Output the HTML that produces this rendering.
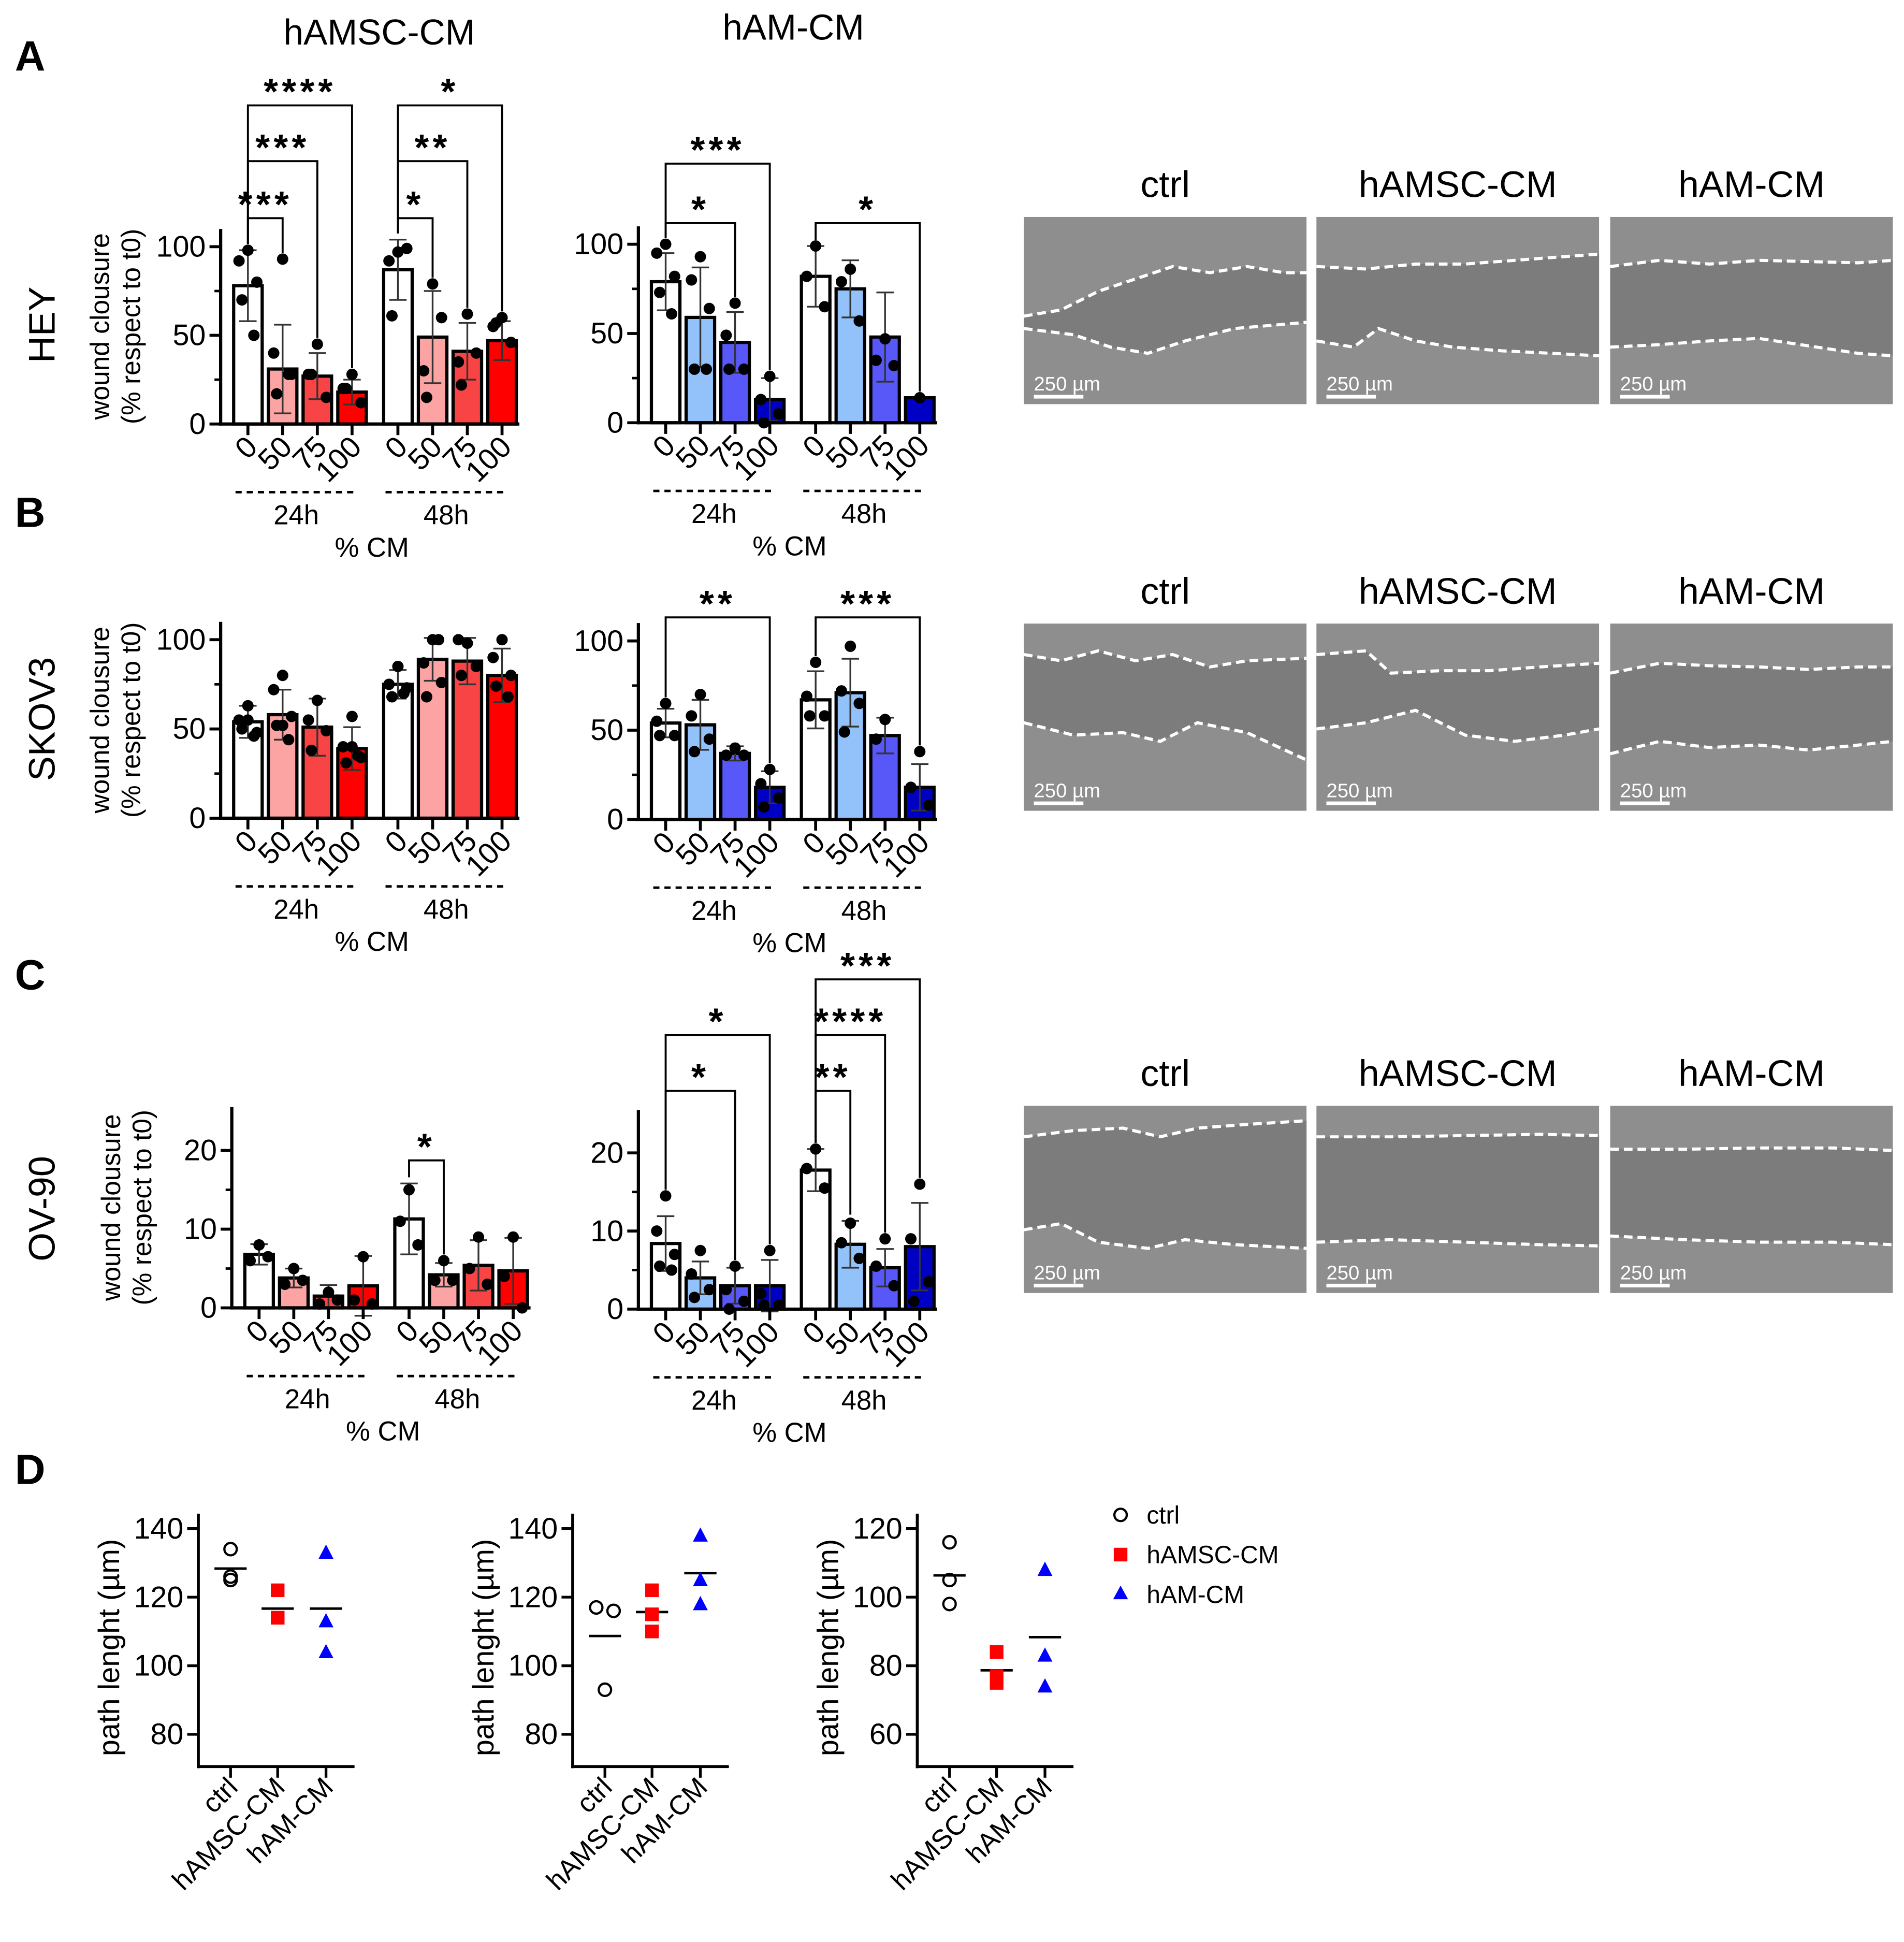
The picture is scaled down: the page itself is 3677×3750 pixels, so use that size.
<!DOCTYPE html>
<html><head><meta charset="utf-8"><style>
html,body{margin:0;padding:0;background:#fff}
svg{display:block;font-family:"Liberation Sans",Arial,sans-serif}
</style></head><body>
<svg id="fig" xmlns="http://www.w3.org/2000/svg" width="3677" height="3750" viewBox="0 0 1536 1566.5">
<g id="static">
<text x="12" y="57" font-size="34" font-weight="bold">A</text>
<text x="12" y="425" font-size="34" font-weight="bold">B</text>
<text x="12" y="798" font-size="34" font-weight="bold">C</text>
<text x="12" y="1197" font-size="34" font-weight="bold">D</text>
<text x="306" y="36" font-size="29" text-anchor="middle">hAMSC-CM</text>
<text x="640" y="32" font-size="29" text-anchor="middle">hAM-CM</text>
<text transform="translate(44,262) rotate(-90)" font-size="30" text-anchor="middle">HEY</text>
<text transform="translate(44,580) rotate(-90)" font-size="30" text-anchor="middle">SKOV3</text>
<text transform="translate(44,975) rotate(-90)" font-size="30" text-anchor="middle">OV-90</text>
</g>
<g id="charts"></g>
<g id="images"></g>
</svg>
<script>
// ---- Bar chart data ----
const doseLabels=["0","50","75","100"];
const timeLabels=["24h","48h"];
const heyAmscMeans=[78,31,27,18,87,49,41,47];
const heyAmscErr=[20,25,13,7,17,26,16,11];
const heyAmscPts=[[98,92,80,70,50],[93,40,28,17,28],[45,28,15,28],[28,20,12,20],[97,92,99,61],[79,30,60,15],[62,35,40,22],[60,55,46,57]];
const heyAmMeans=[79,59,45,13,82,75,48,14];
const heyAmErr=[16,28,17,12,17,16,25,0];
const heyAmPts=[[100,95,82,73,61],[93,80,64,30,30],[67,49,30,30],[26,13,5,0],[99,82,65],[86,79,57],[47,35,32],[14]];
const skAmscMeans=[54,58,51,39,75,89,88,80];
const skAmscErr=[9,14,16,12,8,12,13,15];
const skAmscPts=[[63,55,48,50,46,55],[80,72,57,52,44,52],[66,55,49,38],[57,40,34,31,35,40],[85,75,73,68,70],[100,87,76,68,100],[98,100,85,80],[100,90,80,74,68]];
const skAmMeans=[54,53,37,18,67,71,47,18];
const skAmErr=[8,14,4,9,16,19,10,13];
const skAmPts=[[65,55,47,47],[70,58,45,38],[40,36,36],[28,20,12,7],[88,69,58,58],[97,72,65,49],[56,45],[38,18,8]];
const ovAmscMeans=[6.8,3.8,1.5,2.8,11.3,4.2,5.4,4.7];
const ovAmscErr=[1.3,1.2,1.4,3.8,4.5,1.5,3.2,4.2];
const ovAmscPts=[[8,6,6.5],[5,3,3.5],[2,0.5,1],[6.5,1,0.5],[15,11,8],[6,3.5,3.5],[9,5,3],[9,4,0]];
const ovAmMeans=[8.4,4,3,3,17.8,8.3,5.3,8];
const ovAmErr=[3.5,2.1,2.3,3.3,2.7,3,2.4,5.6];
const ovAmPts=[[14.5,10,7,5.5,5],[7.5,4.5,2.5,1.5],[5.5,2.5,1,0],[7.5,2,0.5,0.5],[20.5,18,15.5],[11,8.5,6.5],[9,5.5,3],[16,9,3.5,1]];
// ---- Path length data ----
const pathCats=["ctrl","hAMSC-CM","hAM-CM"];
const pl1Ctrl=[134,126,125],pl1Amsc=[122,114,114],pl1Am=[133,113,104];
const pl2Ctrl=[117,116,93],pl2Amsc=[122,115,110],pl2Am=[138,125,118];
const pl3Ctrl=[116,105,98],pl3Amsc=[84,77,75],pl3Am=[108,83,74];
const ticks1=[80,100,120,140],ticks3=[60,80,100,120];

const NS="http://www.w3.org/2000/svg";
const charts=document.getElementById('charts');
function mk(tag,attrs,parent,text){const e=document.createElementNS(NS,tag);for(const k in attrs)e.setAttribute(k,attrs[k]);if(text!==undefined)e.textContent=text;(parent||charts).appendChild(e);return e;}

const redCols=["#ffffff","#fca3a3","#f84444","#ff0000"];
const blueCols=["#ffffff","#93c1f9","#5858f8","#0000c4"];

function barChart(name,ax,y0,yTopVal,yTopPix,maxVal,ticks,minor,means,errs,pts,cols,brackets,yTitle){
  const g=mk('g',{});
  
  
  const ys=v=>y0-(v/yTopVal)*(y0-yTopPix);
  const centers=[ax+22,ax+50,ax+78,ax+106,ax+143,ax+171,ax+199,ax+227];
  const bw=23;
  means.forEach((m,i)=>{
    const r=mk('rect',{x:centers[i]-bw/2,y:ys(m),width:bw,height:y0-ys(m),fill:cols[i%4],stroke:'#000','stroke-width':2.6},g);
    
    
  });
  means.forEach((m,i)=>{
    const e=errs[i];if(e<=0)return;
    const eg=mk('g',{stroke:'#333','stroke-width':1.4},g);
    
    
    mk('line',{x1:centers[i],x2:centers[i],y1:ys(m-e),y2:ys(m+e)},eg);
    mk('line',{x1:centers[i]-7,x2:centers[i]+7,y1:ys(m+e),y2:ys(m+e)},eg);
    mk('line',{x1:centers[i]-7,x2:centers[i]+7,y1:ys(m-e),y2:ys(m-e)},eg);
  });
  const jit=[0,-6,6,-4,4,0];
  pts.forEach((arr,i)=>arr.forEach((v,j)=>{
    const c=mk('circle',{cx:centers[i]+(arr.length>1?jit[j%6]*1.2:0),cy:ys(Math.max(0,v)),r:4.6,fill:'#000'},g);
    
    
  }));
  const axTop=ys(maxVal);
  mk('line',{x1:ax,x2:ax,y1:axTop,y2:y0+1.3,stroke:'#000','stroke-width':2.6},g);
  mk('line',{x1:ax-1.3,x2:ax+241,y1:y0,y2:y0,stroke:'#000','stroke-width':2.6},g);
  ticks.forEach(t=>{
    mk('line',{x1:ax-9,x2:ax,y1:ys(t),y2:ys(t),stroke:'#000','stroke-width':2.4},g);
    const tx=mk('text',{x:ax-12,y:ys(t)+8,'font-size':24,'text-anchor':'end'},g,String(t));
    
    
  });
  minor.forEach(t=>mk('line',{x1:ax-5,x2:ax,y1:ys(t),y2:ys(t),stroke:'#000','stroke-width':2},g));
  centers.forEach((c,i)=>{
    mk('line',{x1:c,x2:c,y1:y0,y2:y0+9,stroke:'#000','stroke-width':2.4},g);
    const tx=mk('text',{transform:`translate(${c+9},${y0+20}) rotate(-45)`,'font-size':24,'text-anchor':'end'},g,doseLabels[i%4]);
    
    
  });
  [0,1].forEach(k=>{
    const x1=centers[k*4]-10,x2=centers[k*4+3]+4;
    mk('line',{x1:x1,x2:x2,y1:y0+55,y2:y0+55,stroke:'#000','stroke-width':2,'stroke-dasharray':'5,4'},g);
    const tx=mk('text',{x:(x1+x2)/2,y:y0+81,'font-size':22,'text-anchor':'middle'},g,timeLabels[k]);
    
    
  });
  const xt=mk('text',{x:ax+122,y:y0+107,'font-size':22,'text-anchor':'middle'},g,'% CM');
  
  
  if(yTitle){
    const yt=mk('text',{transform:`translate(${ax-90},${(axTop+y0)/2}) rotate(-90)`,'font-size':21.5,'text-anchor':'middle'},g);
    
    
    mk('tspan',{x:0,y:0},yt,'wound clousure');
    mk('tspan',{x:0,y:25},yt,'(% respect to t0)');
  }
  brackets.forEach(b=>{
    const [i,j,by,lab]=b;
    const topI=Math.min(...pts[i].map(ys),ys(means[i]+errs[i]))-5;
    const topJ=Math.min(...pts[j].map(ys),ys(means[j]+errs[j]))-5;
    const bg=mk('g',{},g);
    
    
    mk('polyline',{points:`${centers[i]},${topI} ${centers[i]},${by} ${centers[j]},${by} ${centers[j]},${topJ}`,fill:'none',stroke:'#000','stroke-width':1.6},bg);
    mk('text',{x:(centers[i]+centers[j])/2,y:by-1,'font-size':30,'font-weight':'bold','text-anchor':'middle','letter-spacing':3},bg,lab);
  });
}

barChart('chart-hey-hamsc',178,342,100,199,110,[0,50,100],[25,75],heyAmscMeans,heyAmscErr,heyAmscPts,redCols,
  [[0,1,176,'***'],[0,2,130,'***'],[0,3,85,'****'],[4,5,176,'*'],[4,6,130,'**'],[4,7,85,'*']],true);
barChart('chart-hey-ham',515,341,100,197,110,[0,50,100],[25,75],heyAmMeans,heyAmErr,heyAmPts,blueCols,
  [[0,2,180,'*'],[0,3,132,'***'],[4,7,180,'*']],false);
barChart('chart-skov3-hamsc',178,660,100,516,110,[0,50,100],[25,75],skAmscMeans,skAmscErr,skAmscPts,redCols,[],true);
barChart('chart-skov3-ham',515,661,100,517,110,[0,50,100],[25,75],skAmMeans,skAmErr,skAmPts,blueCols,
  [[0,3,498,'**'],[4,7,498,'***']],false);
barChart('chart-ov90-hamsc',187,1055,20,928,25.5,[0,10,20],[5,15],ovAmscMeans,ovAmscErr,ovAmscPts,redCols,
  [[4,5,936,'*']],true);
barChart('chart-ov90-ham',515,1056,20,930,25.5,[0,10,20],[5,15],ovAmMeans,ovAmErr,ovAmPts,blueCols,
  [[0,2,880,'*'],[0,3,835,'*'],[4,5,880,'**'],[4,6,835,'****'],[4,7,790,'***']],false);

function dotPlot(name,ax,ticks,ctrl,amsc,am){
  const g=mk('g',{});
  
  
  const yTop=1233,yBot=1399;
  const lo=ticks[0],hi=ticks[ticks.length-1];
  const ys=v=>yBot-(v-lo)/(hi-lo)*(yBot-yTop);
  const x0=1425;
  const cx=[ax+26,ax+64,ax+103];
  mk('line',{x1:ax,x2:ax,y1:yTop-12,y2:x0+1.3,stroke:'#000','stroke-width':2.4},g);
  mk('line',{x1:ax-1.2,x2:ax+126,y1:x0,y2:x0,stroke:'#000','stroke-width':2.4},g);
  ticks.forEach(t=>{
    mk('line',{x1:ax-9,x2:ax,y1:ys(t),y2:ys(t),stroke:'#000','stroke-width':2.2},g);
    const tx=mk('text',{x:ax-12,y:ys(t)+8,'font-size':24,'text-anchor':'end'},g,String(t));
    
    
  });
  const yt=mk('text',{transform:`translate(${ax-64},${(yTop+x0)/2}) rotate(-90)`,'font-size':24,'text-anchor':'middle'},g,'path lenght (µm)');
  
  
  [ctrl,amsc,am].forEach((arr,k)=>{
    mk('line',{x1:cx[k],x2:cx[k],y1:x0,y2:x0+9,stroke:'#000','stroke-width':2.2},g);
    const tx=mk('text',{transform:`translate(${cx[k]+7},${x0+18}) rotate(-45)`,'font-size':22,'text-anchor':'end'},g,pathCats[k]);
    
    
    const mean=arr.reduce((a,b)=>a+b,0)/arr.length;
    const ml=mk('line',{x1:cx[k]-13,x2:cx[k]+13,y1:ys(mean),y2:ys(mean),stroke:'#000','stroke-width':2},g);
    
    
    const sorted=arr.slice().sort((a,b)=>b-a);
    const jit=[-7,7,0];
    sorted.forEach((v,j)=>{
      const x=cx[k]+(Math.abs(sorted[0]-sorted[1])<5&&j<2?jit[j]:0),y=ys(v);
      let m;
      if(k===0)m=mk('circle',{cx:x,cy:y,r:5,fill:'none',stroke:'#000','stroke-width':1.8},g);
      else if(k===1)m=mk('rect',{x:x-5.5,y:y-5.5,width:11,height:11,fill:'#ff0000'},g);
      else m=mk('polygon',{points:`${x},${y-6.5} ${x+6},${y+5} ${x-6},${y+5}`,fill:'#0000ff'},g);
      
      
    });
  });
}
dotPlot('chart-path-1',160,ticks1,pl1Ctrl,pl1Amsc,pl1Am);
dotPlot('chart-path-2',462,ticks1,pl2Ctrl,pl2Amsc,pl2Am);
dotPlot('chart-path-3',740,ticks3,pl3Ctrl,pl3Amsc,pl3Am);

const lg=mk('g',{});


mk('circle',{cx:904,cy:1222,r:5,fill:'none',stroke:'#000','stroke-width':1.8},lg);
mk('rect',{x:898.5,y:1248.5,width:11,height:11,fill:'#ff0000'},lg);
mk('polygon',{points:'904,1279 910,1290 898,1290',fill:'#0000ff'},lg);
pathCats.forEach((c,i)=>{
  const t=mk('text',{x:925,y:1229+i*32,'font-size':20},lg,c);
  
  
});

const imgs=document.getElementById('images');
const rowsY=[175,503,892];
const colsX=[826,1062,1299];
const titles=["ctrl","hAMSC-CM","hAM-CM"];
const wounds=[
 [["0,80 30,75 60,60 90,50 120,40 150,45 180,40 210,45 228,45","0,90 40,95 70,105 100,110 130,100 170,90 228,85"],
  ["0,40 40,42 80,38 120,38 160,35 200,32 228,30","0,100 30,105 50,90 80,100 110,105 150,108 190,110 228,112"],
  ["0,40 40,35 80,38 120,35 160,36 200,37 228,35","0,105 40,103 80,100 120,98 160,104 200,110 228,112"]],
 [["0,25 30,30 60,22 90,30 120,25 150,35 180,30 228,28","0,80 40,90 80,88 110,95 140,80 180,88 228,110"],
  ["0,25 40,22 60,40 100,38 140,38 180,35 228,32","0,85 40,80 80,70 120,90 160,95 200,90 228,85"],
  ["0,40 40,32 80,34 120,35 160,37 200,35 228,35","0,105 40,95 80,100 120,98 160,102 200,98 228,95"]],
 [["0,25 40,20 80,18 110,25 140,18 180,15 228,12","0,100 30,95 60,110 100,115 130,108 170,112 228,115"],
  ["0,25 60,25 120,24 180,23 228,24","0,110 60,108 120,110 180,112 228,113"],
  ["0,35 60,35 120,34 180,34 228,36","0,105 60,108 120,110 180,110 228,112"]]];
rowsY.forEach((ry,r)=>colsX.forEach((cx,c)=>{
  const g=mk('g',{transform:`translate(${cx},${ry})`},imgs);
  
  
  mk('rect',{x:0,y:0,width:228,height:151,fill:'#8e8e8e'},g);
  const [top,bot]=wounds[r][c];
  mk('polygon',{points:top+' 228,'+top.split(' ').pop().split(',')[1]+' 228,'+bot.split(' ').pop().split(',')[1]+' '+bot.split(' ').reverse().join(' '),fill:'#7c7c7c'},g);
  mk('polyline',{points:top,fill:'none',stroke:'#fff','stroke-width':2.5,'stroke-dasharray':'7,4'},g);
  mk('polyline',{points:bot,fill:'none',stroke:'#fff','stroke-width':2.5,'stroke-dasharray':'7,4'},g);
  mk('line',{x1:8,x2:48,y1:145,y2:145,stroke:'#fff','stroke-width':3},g);
  mk('text',{x:8,y:140,'font-size':16,fill:'#fff'},g,'250 µm');
  const t=mk('text',{x:cx+114,y:ry-16,'font-size':30,'text-anchor':'middle'},imgs,titles[c]);
  
  
}));
</script>
</body></html>
